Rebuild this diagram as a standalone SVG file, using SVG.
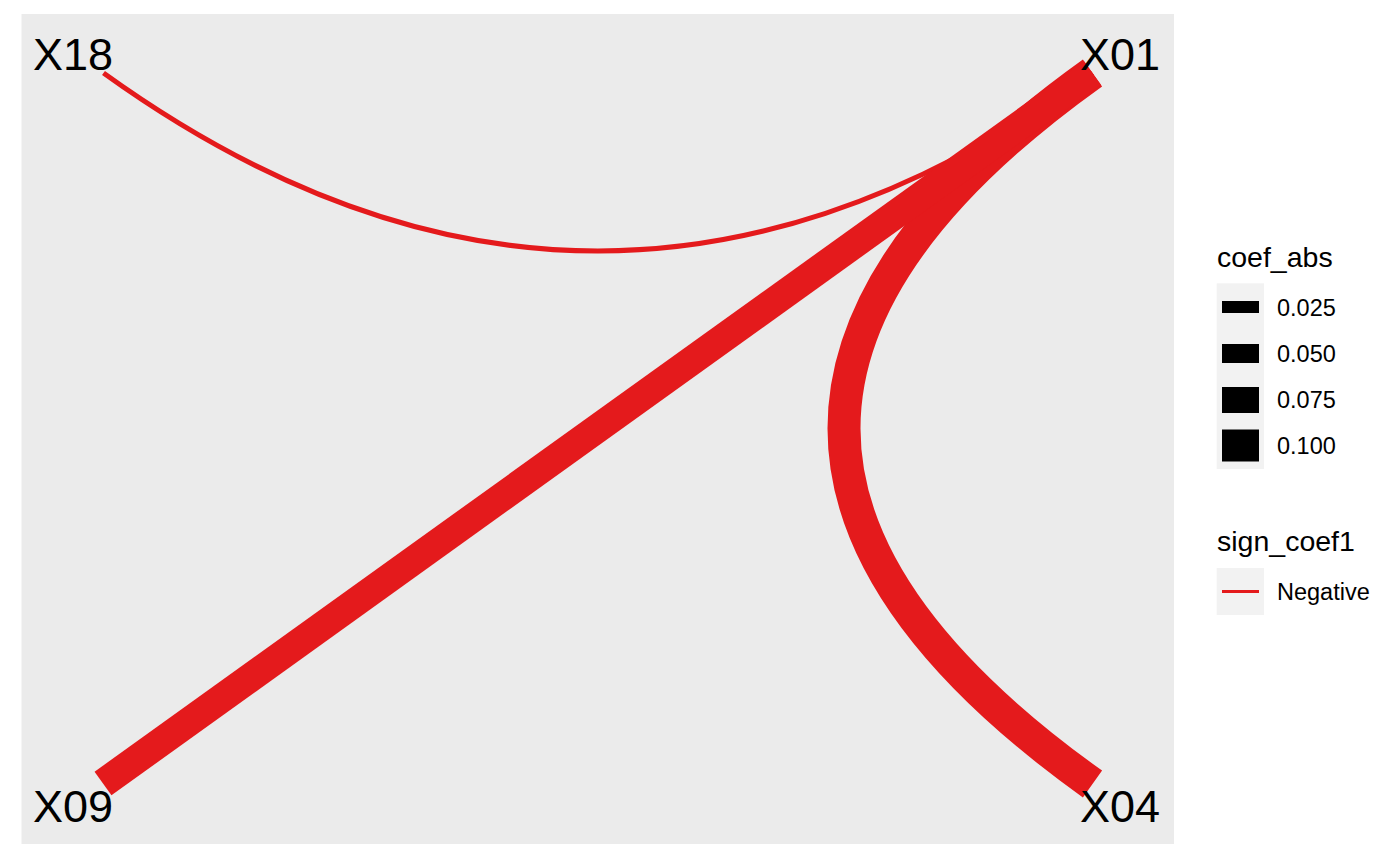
<svg xmlns="http://www.w3.org/2000/svg" width="1400" height="865" viewBox="0 0 1400 865">
<style>
.node text{font-family:"Liberation Sans",Arial,sans-serif;font-size:45px;fill:#000}
.edge{fill:none;stroke:#E41A1C;stroke-linecap:butt}
.lt{font-family:"Liberation Sans",Arial,sans-serif;font-size:28.5px;fill:#000}
.ll{font-family:"Liberation Sans",Arial,sans-serif;font-size:23.5px;fill:#000}
</style>
<rect width="1400" height="865" fill="#FFFFFF"/>
<rect x="21.5" y="14" width="1152.5" height="830" fill="#EBEBEB"/>
<g id="connectors">
<path class="edge" stroke-width="5" d="M103.5,73 Q598,429 1092.5,73"/>
<path class="edge" stroke-width="33" d="M1092.5,73 Q595.5,428.5 1092.5,784"/>
<path class="edge" stroke-width="29" d="M103,783.5 L1092.5,73"/>
</g>
<g id="node-X18" class="node"><text x="33" y="70">X18</text></g>
<g id="node-X01" class="node"><text x="1080" y="69.5">X01</text></g>
<g id="node-X09" class="node"><text x="33" y="822">X09</text></g>
<g id="node-X04" class="node"><text x="1080" y="822">X04</text></g>
<g id="legend">
<text class="lt" x="1217" y="267">coef_abs</text>
<rect x="1216.7" y="283.3" width="47.3" height="185.7" fill="#F2F2F2"/>
<rect x="1222" y="301" width="37" height="12" fill="#000"/>
<rect x="1222" y="344" width="37" height="19" fill="#000"/>
<rect x="1222" y="387" width="37" height="26" fill="#000"/>
<rect x="1222" y="429.5" width="37" height="32" fill="#000"/>
<text class="ll" x="1277" y="316">0.025</text>
<text class="ll" x="1277" y="362">0.050</text>
<text class="ll" x="1277" y="408">0.075</text>
<text class="ll" x="1277" y="454">0.100</text>
<text class="lt" x="1217" y="551">sign_coef1</text>
<rect x="1216.7" y="568" width="47.3" height="47" fill="#F2F2F2"/>
<line x1="1222" y1="591.5" x2="1259" y2="591.5" stroke="#E41A1C" stroke-width="3"/>
<text class="ll" x="1277" y="600">Negative</text>
</g>
</svg>
